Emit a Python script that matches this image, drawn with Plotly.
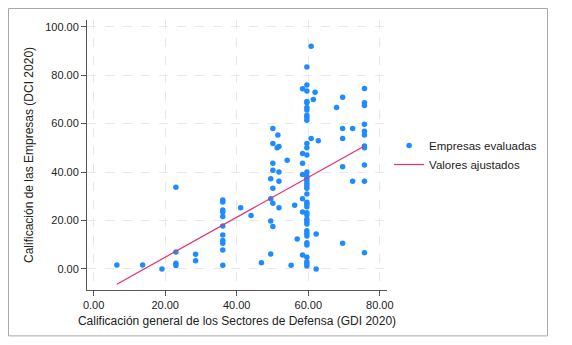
import plotly.graph_objects as go

# GDI 2020 (x) and DCI 2020 (y) values
gdi = [6.5, 13.7, 19.1, 23.0, 23.0, 23.0, 23.0, 28.5, 28.5,
       36.1, 36.1, 36.1, 36.1, 36.1, 36.1, 36.1, 36.1, 36.1, 36.1, 36.1,
       41.1, 44.0, 46.9,
       49.5, 49.5, 50.1, 49.5, 50.1, 50.1, 49.5, 50.1, 50.1, 50.1, 50.1,
       51.8, 51.8, 51.8, 51.3, 51.8, 51.5,
       54.1, 55.2, 56.2, 56.9,
       58.4, 58.4, 58.4, 58.4, 58.4, 58.4, 58.4,
       59.6, 59.6, 59.6, 59.6, 59.6, 59.6, 59.6, 59.6, 59.6, 59.6,
       59.6, 59.6, 59.6, 59.6, 59.6, 59.6, 59.6, 59.6, 59.6, 59.6,
       59.6, 59.6, 59.6, 59.6, 59.6, 59.6, 59.6, 59.6, 59.6, 59.6,
       59.6, 59.6, 59.6, 59.6, 59.6, 59.6, 59.6, 59.6,
       60.8, 60.8, 61.9, 61.4, 62.2, 62.2, 62.8, 67.9,
       69.6, 69.6, 69.6, 69.6, 69.6,
       72.4, 72.4,
       75.7, 75.7, 75.7, 75.7, 75.7, 75.7, 75.7, 75.7, 75.7, 75.7, 75.7]
dci = [1.6, 1.6, 0.0, 33.7, 7.0, 2.3, 1.4, 6.1, 3.4,
       28.5, 27.6, 24.3, 23.5, 21.7, 17.7, 14.0, 11.7, 10.6, 7.8, 1.5,
       25.3, 22.1, 2.6,
       6.2, 19.8, 17.5, 29.0, 27.1, 33.3, 37.2, 40.8, 43.6, 51.8, 58.0,
       40.0, 36.2, 25.3, 50.0, 50.6, 55.3,
       44.9, 1.5, 26.3, 12.4,
       47.7, 43.6, 39.0, 29.0, 23.5, 5.8, 74.4,
       47.0, 40.0, 38.4, 37.4, 36.4, 35.3, 34.4, 33.3, 30.9, 27.5,
       26.7, 25.7, 23.2, 22.3, 20.5, 19.5, 18.6, 15.8, 14.7, 13.6,
       10.8, 9.9, 4.8, 3.0, 2.1, 1.2, 51.8, 50.0, 83.4, 76.0,
       73.5, 69.1, 68.6, 66.7, 65.6, 63.5, 62.5, 61.4,
       92.0, 53.9, 73.0, 70.0, 14.4, 0.0, 52.9, 66.7,
       70.9, 58.0, 53.9, 42.2, 10.6,
       58.0, 36.2,
       74.5, 68.6, 67.5, 59.8, 56.9, 55.3, 50.8, 50.0, 42.9, 36.2, 6.7]

# Fitted values (linear fit)
fit_x = [6.5, 75.7]
fit_y = [-6.3, 50.8]

x_ticks = [0, 20, 40, 60, 80]
y_ticks = [0, 20, 40, 60, 80, 100]

font = "Liberation Sans, Arial, sans-serif"

fig = go.Figure()
fig.add_trace(go.Scatter(
    x=gdi, y=dci, mode="markers", name="Empresas evaluadas",
    marker=dict(color="#1e8cff", size=5.5, line=dict(width=0)),
))
fig.add_trace(go.Scatter(
    x=fit_x, y=fit_y, mode="lines", name="Valores ajustados",
    line=dict(color="#e0306e", width=1.2),
))

axis_common = dict(
    showline=True, linecolor="#555555", linewidth=1,
    ticks="outside", ticklen=5, tickcolor="#555555",
    showgrid=True, gridcolor="#e8e8e8", gridwidth=1, griddash="dash",
    zeroline=False, tickformat=".2f", automargin=False,
    tickfont=dict(family=font, size=11, color="#222222"),
)

# the page body adds an 8px offset, so the figure is 8px smaller
fig.update_layout(
    width=564, height=337,
    margin=dict(l=79, r=185, t=12, b=55),
    paper_bgcolor="white", plot_bgcolor="white",
    font=dict(family=font, size=11, color="#222222"),
    xaxis=dict(axis_common, range=[-1.85, 82], tickvals=x_ticks,
               title=dict(text="Calificación general de los Sectores de Defensa (GDI 2020)",
                          font=dict(size=12), standoff=6)),
    yaxis=dict(axis_common, range=[-8.7, 102.8], tickvals=y_ticks,
               title=dict(text="Calificación de las Empresas (DCI 2020)",
                          font=dict(size=12), standoff=8)),
    showlegend=True,
    legend=dict(x=1.007, y=0.50, xanchor="left", yanchor="middle",
                font=dict(size=11.5, family=font), bgcolor="rgba(0,0,0,0)",
                tracegroupgap=0, itemwidth=30),
    shapes=[dict(type="rect", xref="paper", yref="paper",
                 x0=-0.2617, x1=1.535, y0=-0.170, y1=1.0425,
                 line=dict(color="#a8a8a8", width=1), fillcolor="rgba(0,0,0,0)",
                 layer="below")],
)

fig.write_html("out.html")
